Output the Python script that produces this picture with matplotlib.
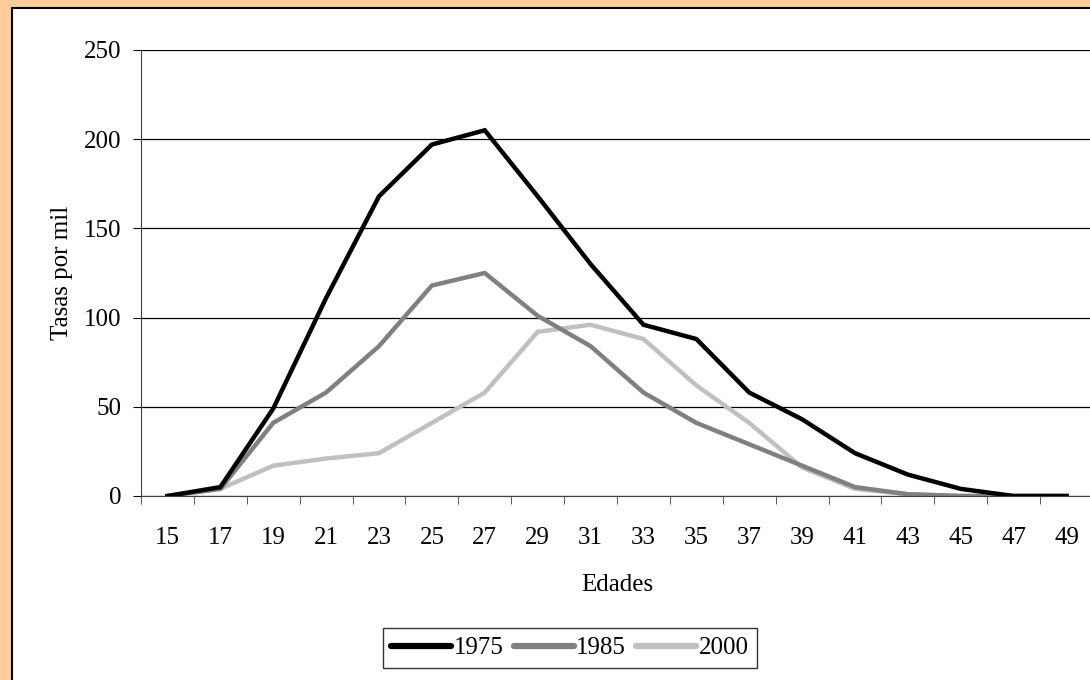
import matplotlib.pyplot as plt
from matplotlib.patches import Rectangle
import numpy as np

edades = [15, 17, 19, 21, 23, 25, 27, 29, 31, 33, 35, 37, 39, 41, 43, 45, 47, 49]
tasas_1975 = [0, 5, 49, 111, 168, 197, 205, 168, 130, 96, 88, 58, 43, 24, 12, 4, 0, 0]
tasas_1985 = [0, 4, 41, 58, 84, 118, 125, 101, 84, 58, 41, 29, 17, 5, 1, 0, 0, 0]
tasas_2000 = [0, 4, 17, 21, 24, 41, 58, 92, 96, 88, 62, 41, 16, 4, 1, 0, 0, 0]

plt.rcParams['font.family'] = ['Liberation Serif', 'DejaVu Serif']
fs = 18

fig = plt.figure(figsize=(10.9, 6.8), dpi=100)
fig.patch.set_facecolor('#FFCC99')
# white chart area with black frame (cropped at right and bottom)
fig.patches.append(Rectangle((12 / 1090, -0.05), 1.2, 1 - 8 / 680 + 0.05,
                             transform=fig.transFigure, facecolor='white',
                             edgecolor='black', linewidth=1.5, zorder=-5))

ax = fig.add_axes([141 / 1090, 1 - 496 / 680, 952 / 1090, 446 / 680])
ax.set_zorder(2)
x = np.arange(len(edades))
ax.plot(x, tasas_2000, color='#C0C0C0', lw=3.2, label='2000', solid_joinstyle='miter')
ax.plot(x, tasas_1985, color='#808080', lw=3.2, label='1985', solid_joinstyle='miter')
ax.plot(x, tasas_1975, color='black', lw=3.2, label='1975', solid_joinstyle='miter')

ax.set_xlim(-0.5, len(edades) - 0.5)
ax.set_ylim(0, 250)
ax.set_yticks(range(0, 251, 50))
ax.yaxis.grid(True, color='black', lw=0.9)
ax.set_axisbelow(True)
ax.set_xticks(x)
ax.set_xticklabels(edades)
ax.set_xticks(np.arange(-0.5, len(edades), 1), minor=True)
ax.tick_params(axis='x', which='major', length=0, pad=22, labelsize=fs)
ax.tick_params(axis='x', which='minor', length=6, color='#404040')
ax.tick_params(axis='y', length=6, pad=8, labelsize=fs)

for s in ['top', 'right']:
    ax.spines[s].set_visible(False)
ax.spines['left'].set_color('#404040')
ax.spines['bottom'].set_color('#404040')

ax.set_xlabel('Edades', fontsize=fs, labelpad=18)
ax.set_ylabel('Tasas por mil', fontsize=fs, labelpad=8)

h, l = ax.get_legend_handles_labels()
order = [2, 1, 0]
leg = fig.legend([h[i] for i in order], [l[i] for i in order], loc='center',
                 bbox_to_anchor=(570 / 1090, 1 - 648 / 680), ncol=3, fontsize=fs,
                 frameon=True, fancybox=False, edgecolor='black', handlelength=2.4,
                 handletextpad=0.1, columnspacing=0.4, borderpad=0.35)
leg.get_frame().set_linewidth(1.0)
for line in leg.get_lines():
    line.set_linewidth(4.5)
    line.set_solid_capstyle('round')

fig.savefig('out.png', dpi=100, facecolor=fig.get_facecolor())
